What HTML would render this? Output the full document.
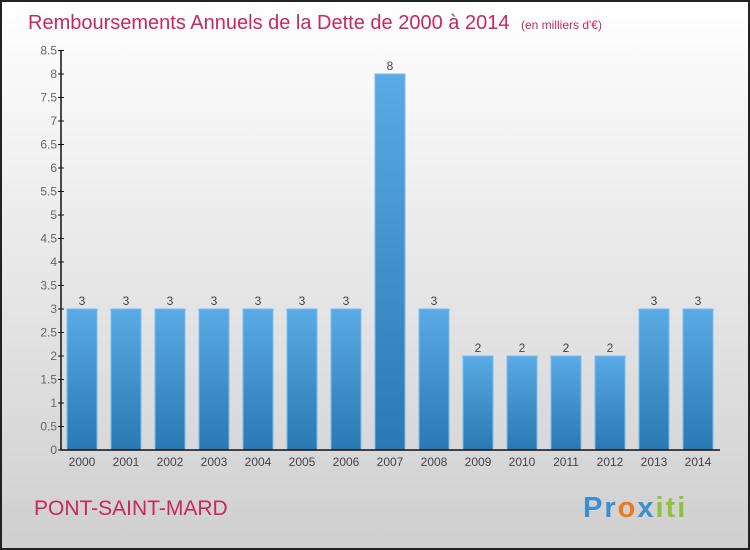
<!DOCTYPE html>
<html><head><meta charset="utf-8"><style>
body{margin:0;width:750px;height:550px;overflow:hidden}
svg{display:block;font-family:"Liberation Sans",sans-serif}
</style></head><body>
<svg id="chart" width="750" height="550">
<defs>
<linearGradient id="bg" x1="0" y1="0" x2="0" y2="1"><stop offset="0" stop-color="#ffffff"/><stop offset="1" stop-color="#cfcfcf"/></linearGradient>
<linearGradient id="bar" x1="0" y1="0" x2="0" y2="1"><stop offset="0" stop-color="#5aaae6"/><stop offset="1" stop-color="#2a78b4"/></linearGradient>
</defs>
<rect x="1" y="1" width="748" height="548" fill="url(#bg)" stroke="#222" stroke-width="2"/>
<text x="28" y="29" font-size="20" font-weight="normal" fill="#c8275f">Remboursements Annuels de la Dette de 2000 à 2014 <tspan font-size="12" dx="6">(en milliers d'€)</tspan></text>
<text x="34" y="515" font-size="21" fill="#c8275f">PONT-SAINT-MARD</text>
<text x="583" y="517" font-size="29" font-weight="bold" letter-spacing="2"><tspan fill="#3a8fd0">Pr</tspan><tspan fill="#f07820">o</tspan><tspan fill="#3a8fd0">x</tspan><tspan fill="#8cc43c">iti</tspan></text>
<g id="plot"></g>
</svg>
<script>
const categories=["2000","2001","2002","2003","2004","2005","2006","2007","2008","2009","2010","2011","2012","2013","2014"];
const values=[3,3,3,3,3,3,3,8,3,2,2,2,2,3,3];
const ticks=[0,0.5,1,1.5,2,2.5,3,3.5,4,4.5,5,5.5,6,6.5,7,7.5,8,8.5];
const NS="http://www.w3.org/2000/svg";
const g=document.getElementById('plot');
const y0=450,yPerUnit=47,x0=82,step=44,bw=30;
const y=v=>y0-v*yPerUnit;
const x=i=>x0+i*step;
function mk(t,a,txt){const e=document.createElementNS(NS,t);for(const k in a)e.setAttribute(k,a[k]);if(txt!==undefined)e.textContent=txt;g.appendChild(e);return e;}
values.forEach((v,i)=>{
 const r=mk('rect',{x:x(i)-bw/2,y:y(v),width:bw,height:y0-y(v),fill:'url(#bar)',stroke:'#7bbcef','stroke-width':1});
 
 
 const l=mk('text',{x:x(i),y:y(v)-4,'font-size':12,fill:'#444','text-anchor':'middle'},String(v));
 
 
 const c=mk('text',{x:x(i),y:y0+16,'font-size':12,fill:'#444','text-anchor':'middle'},categories[i]);
 
 
});
const ax=mk('line',{x1:61,y1:y(8.5),x2:61,y2:y0,stroke:'#111','stroke-width':1.5});


const xa=mk('line',{x1:61,y1:y0,x2:720,y2:y0,stroke:'#111','stroke-width':1.5});


ticks.forEach(t=>{
 mk('line',{x1:58,y1:y(t),x2:64,y2:y(t),stroke:'#111'});
 const tl=mk('text',{x:57,y:y(t)+4,'font-size':12,fill:'#666','text-anchor':'end'},String(t));
 
 
});
</script>
</body></html>
